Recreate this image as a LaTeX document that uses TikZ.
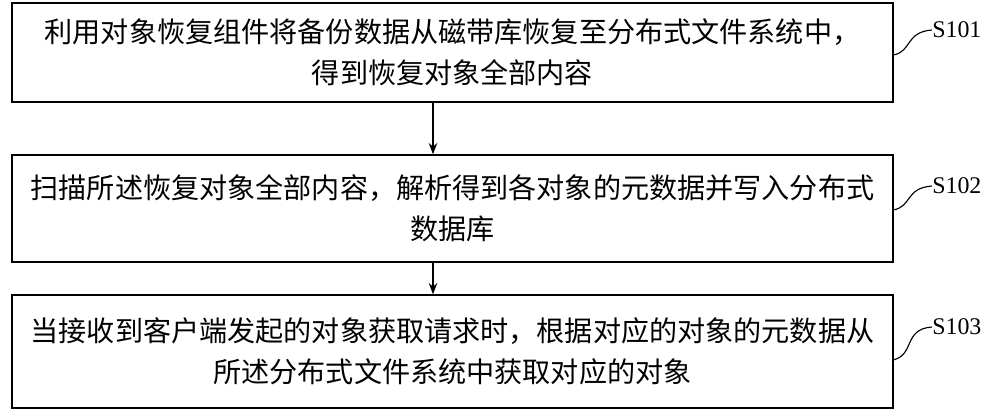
\documentclass[tikz,border=0pt]{standalone}
\usepackage{fontspec}
\setmainfont{Liberation Serif}
\newfontfamily\cjk{Noto Sans CJK SC}
\begin{document}
\begin{tikzpicture}[x=0.025cm,y=-0.025cm,
  stepbox/.style={draw,line width=1pt,minimum width=881*0.025cm,align=center,inner sep=0pt,font=\cjk\fontsize{20pt}{29pt}\selectfont},
  arr/.style={-{Stealth[length=8pt,width=6pt]},line width=1pt},
  lab/.style={font=\fontsize{17pt}{18pt}\selectfont,anchor=west,inner sep=0pt}]
\useasboundingbox (0,0) rectangle (1000,412);
\usetikzlibrary{arrows.meta}
\node[stepbox,minimum height=99*0.025cm] (b1) at (452.5,52.5) {利用对象恢复组件将备份数据从磁带库恢复至分布式文件系统中，\\得到恢复对象全部内容};
\node[stepbox,minimum height=107*0.025cm] (b2) at (452.5,208.5) {扫描所述恢复对象全部内容，解析得到各对象的元数据并写入分布式\\数据库};
\node[stepbox,minimum height=113*0.025cm] (b3) at (452.5,351.5) {当接收到客户端发起的对象获取请求时，根据对应的对象的元数据从\\所述分布式文件系统中获取对应的对象};
\draw[arr] (b1.south -| 433,0) -- (b2.north -| 433,0);
\draw[arr] (b2.south -| 433,0) -- (b3.north -| 433,0);
\node[lab] (l1) at (932,30) {S101};
\node[lab] (l2) at (932,186) {S102};
\node[lab] (l3) at (932,327) {S103};
\draw[line width=0.8pt] (893,55) .. controls (912,52) and (905,32) .. (l1.west);
\draw[line width=0.8pt] (893,210) .. controls (912,207) and (905,188) .. (l2.west);
\draw[line width=0.8pt] (893,360) .. controls (915,355) and (903,329) .. (l3.west);
\end{tikzpicture}
\end{document}
